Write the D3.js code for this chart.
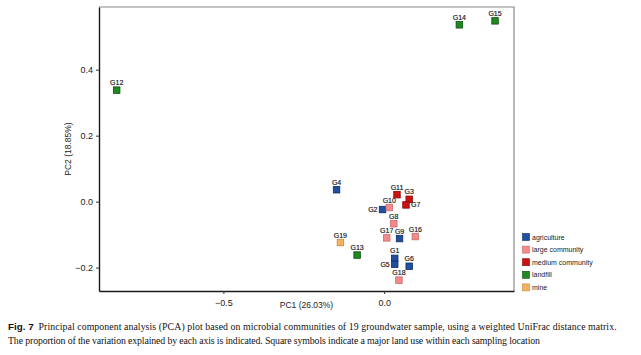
<!DOCTYPE html>
<html><head><meta charset="utf-8">
<script src="https://cdn.jsdelivr.net/npm/d3@7"></script>
<style>body{margin:0;background:#fff}svg{display:block}</style>
</head><body>
<svg id="c" width="641" height="355"></svg>
<script>
const samples = ["G1","G2","G3","G4","G5","G6","G7","G8","G9","G10","G11","G12","G13","G14","G15","G16","G17","G18","G19"];
const pc1 = [0.033,-0.005,0.078,-0.148,0.033,0.078,0.068,0.030,0.048,0.016,0.040,-0.832,-0.084,0.234,0.345,0.097,0.008,0.046,-0.136];
const pc2 = [-0.172,-0.024,0.007,0.036,-0.190,-0.196,-0.010,-0.067,-0.112,-0.018,0.021,0.338,-0.162,0.536,0.548,-0.106,-0.110,-0.238,-0.124];
const landUse = ["agriculture","agriculture","medium community","agriculture","agriculture","agriculture","medium community","large community","agriculture","large community","medium community","landfill","landfill","landfill","landfill","large community","large community","large community","mine"];
const labelSide = ["top","left","top","top","left","top","right","top","top","top","top","top","top","top","top","top","top","top","top"];
const categories = ["agriculture","large community","medium community","landfill","mine"];
const catColors = ["#1f4f9e","#f28b8b","#cc1111","#1f8a1f","#f5b25e"];
const catStroke = ["#0d2f66","#c96a6a","#8a0a0a","#0f4f0f","#c98a3a"];
const xTicks = [-0.5, 0.0];
const yTicks = [-0.2, 0.0, 0.2, 0.4];
const xTitle = "PC1 (26.03%)", yTitle = "PC2 (18.85%)";
const captionBold = "Fig. 7";
const captionLine1 = "Principal component analysis (PCA) plot based on microbial communities of 19 groundwater sample, using a weighted UniFrac distance matrix.";
const captionLine2 = "The proportion of the variation explained by each axis is indicated. Square symbols indicate a major land use within each sampling location";

const svg = d3.select("#c");
const L = 99, R = 514, T = 7, B = 291;
const x = d3.scaleLinear().domain([-0.887, 0.404]).range([L, R]);
const y = d3.scaleLinear().domain([-0.271, 0.590]).range([B, T]);
const color = d3.scaleOrdinal().domain(categories).range(catColors);
const stroke = d3.scaleOrdinal().domain(categories).range(catStroke);
const font = "Liberation Sans, Arial, sans-serif";
const serif = "Liberation Serif, Times New Roman, serif";

svg.append("path").attr("d", `M${L},${T}H${R}V${B}`).attr("fill","none").attr("stroke","#8a8a8a").attr("stroke-width",1.2);

const xAxis = svg.append("g").attr("transform", `translate(0,${B})`)
  .call(d3.axisBottom(x).tickValues(xTicks).tickSize(3).tickSizeOuter(0));
const yAxis = svg.append("g").attr("transform", `translate(${L},0)`)
  .call(d3.axisLeft(y).tickValues(yTicks).tickSize(3).tickSizeOuter(0));
[xAxis, yAxis].forEach(a => {
  a.select(".domain").attr("stroke","#1a1a1a").attr("stroke-width",1.4);
  a.selectAll(".tick line").attr("stroke","#333");
  a.selectAll(".tick text").attr("fill","#222").attr("font-size",9).attr("font-family",font)
    .text(d => d3.format(".1f")(d).replace("-", "\u2212"));
});
xAxis.selectAll(".tick text").attr("dy","0.95em");

svg.append("text").attr("x", (L+R)/2).attr("y", 308).attr("text-anchor","middle")
  .attr("font-family",font).attr("font-size",8.5).attr("fill","#222").text(xTitle);
svg.append("text").attr("transform", `translate(71,${(T+B)/2}) rotate(-90)`).attr("text-anchor","middle")
  .attr("font-family",font).attr("font-size",8.5).attr("fill","#222").text(yTitle);

const data = samples.map((s,i) => ({s, x: pc1[i], y: pc2[i], c: landUse[i], side: labelSide[i]}));
const sz = 6.5;
svg.append("g").selectAll("rect").data(data).join("rect")
  .attr("x", d => x(d.x) - sz/2).attr("y", d => y(d.y) - sz/2)
  .attr("width", sz).attr("height", sz)
  .attr("fill", d => color(d.c)).attr("stroke", d => stroke(d.c)).attr("stroke-width", 0.8);

svg.append("g").selectAll("text").data(data).join("text")
  .attr("x", d => x(d.x) + (d.side === "left" ? -5 : d.side === "right" ? 5 : 0))
  .attr("y", d => y(d.y) + (d.side === "top" ? -5 : 2.5))
  .attr("text-anchor", d => d.side === "left" ? "end" : d.side === "right" ? "start" : "middle")
  .attr("font-family", font).attr("font-size", 7).attr("fill", "#111")
  .attr("stroke", "#111").attr("stroke-width", 0.15)
  .text(d => d.s);

const lg = svg.append("g").attr("transform","translate(526,237)");
categories.forEach((c,i) => {
  lg.append("rect").attr("x",-3.5).attr("y", i*12.6 - 3.5).attr("width",7).attr("height",7)
    .attr("fill", color(c)).attr("stroke", stroke(c)).attr("stroke-width",0.6);
  lg.append("text").attr("x",6).attr("y", i*12.6 + 2.5).attr("font-family",font).attr("font-size",7)
    .attr("fill","#222").text(c);
});

const cap = svg.append("text").attr("x",8).attr("y",330).attr("font-size",9.8).attr("fill","#111");
cap.append("tspan").attr("font-family",font).attr("font-weight","bold").text(captionBold);
cap.append("tspan").attr("font-family",serif).attr("dx",5).attr("textLength",578).attr("lengthAdjust","spacing").text(captionLine1);
svg.append("text").attr("x",8).attr("y",344).attr("font-size",9.8).attr("fill","#111")
  .attr("font-family",serif).attr("textLength",532).attr("lengthAdjust","spacing").text(captionLine2);
</script>
</body></html>
